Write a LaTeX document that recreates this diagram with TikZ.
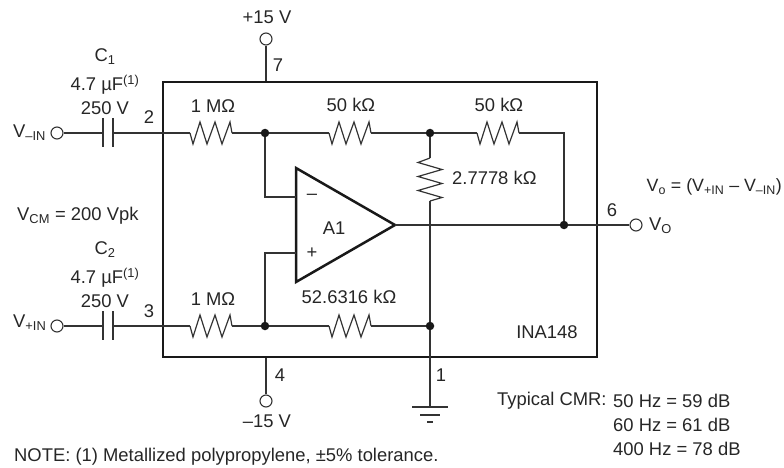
\documentclass[tikz,border=0pt]{standalone}
\usepackage{fontspec}
\setmainfont{Liberation Sans}
\begin{document}
\begin{tikzpicture}[
    x=1pt, y=-1pt,
    wire/.style={draw=black!80, line width=1.2pt},
    heavy/.style={draw=black!90, line width=2.5pt},
    chip/.style={
        rectangle, heavy, minimum width=434pt, minimum height=275pt,
        inner sep=0pt
    },
    pinhole/.style={
        circle, draw=black!80, line width=1.1pt, fill=white,
        minimum size=12pt, inner sep=0pt
    },
    junction/.style={
        circle, fill=black!90, minimum size=8.5pt, inner sep=0pt
    },
    lbl/.style={
        inner sep=0pt, text=black!85,
        font=\fontsize{18.4}{21}\selectfont
    },
    hres/.style={to path={
        -- ++(3,11) -- ++(7,-22) -- ++(7,22) -- ++(8,-22)
        -- ++(7,22) -- ++(8,-22) -- (\tikztotarget)
    }},
    vres/.style={to path={
        -- ++(-12,4.5) -- ++(24,7) -- ++(-24,7) -- ++(24,7)
        -- ++(-24,7) -- ++(24,7) -- (\tikztotarget)
    }}
]
\useasboundingbox (0,0) rectangle (784,468);

% --- Chip outline ---
\node[chip] (ina) at (380,219.5) {};

% --- Pins ---
\node[pinhole] (vminus) at (57,133) {};
\node[pinhole] (vplus) at (57,326) {};
\node[pinhole] (pos15) at (266,39) {};
\node[pinhole] (neg15) at (266,401) {};
\node[pinhole] (vout) at (636,225) {};

% --- Junctions ---
\node[junction] (nodeA) at (265,133) {};
\node[junction] (nodeB) at (265,326) {};
\node[junction] (nodeC) at (430,133) {};
\node[junction] (nodeD) at (430,326) {};
\node[junction] (nodeE) at (564,225) {};

% --- Resistor and capacitor ends ---
\coordinate (r1a) at (190,133);
\coordinate (r1b) at (232,133);
\coordinate (r2a) at (329,133);
\coordinate (r2b) at (371,133);
\coordinate (r3a) at (477,133);
\coordinate (r3b) at (519,133);
\coordinate (r4a) at (190,326);
\coordinate (r4b) at (232,326);
\coordinate (r5a) at (329,326);
\coordinate (r5b) at (371,326);
\coordinate (r6a) at (430,158);
\coordinate (r6b) at (430,201);
\coordinate (c1a) at (103,133);
\coordinate (c1b) at (113,133);
\coordinate (c2a) at (103,326);
\coordinate (c2b) at (113,326);

% --- Op amp ---
\coordinate (ampTop) at (296,168);
\coordinate (ampBot) at (296,282);
\coordinate (ampOut) at (395,225);
\draw[heavy, line join=miter] (ampTop) -- (ampOut) -- (ampBot) -- cycle;

% --- Ground ---
\coordinate (gnd) at (430,407);
\draw[wire] (412,407) -- (448,407);
\draw[wire] (420,415) -- (440,415);
\draw[wire] (427,422) -- (433,422);

% --- Capacitor plates ---
\draw[wire] (103,118) -- (103,147);
\draw[wire] (113,118) -- (113,147);
\draw[wire] (103,311) -- (103,340);
\draw[wire] (113,311) -- (113,340);

% --- Wires ---
\draw[wire] (vminus) -- (c1a);
\draw[wire] (c1b) -- (r1a);
\draw[wire] (r1a) to[hres] (r1b);
\draw[wire] (r1b) -- (nodeA);
\draw[wire] (nodeA) -- (r2a);
\draw[wire] (r2a) to[hres] (r2b);
\draw[wire] (r2b) -- (nodeC);
\draw[wire] (nodeC) -- (r3a);
\draw[wire] (r3a) to[hres] (r3b);
\draw[wire] (r3b) -| (nodeE);
\draw[wire] (nodeC) -- (r6a);
\draw[wire] (r6a) to[vres] (r6b);
\draw[wire] (r6b) -- (nodeD);
\draw[wire] (nodeD) -- (gnd);
\draw[wire] (vplus) -- (c2a);
\draw[wire] (c2b) -- (r4a);
\draw[wire] (r4a) to[hres] (r4b);
\draw[wire] (r4b) -- (nodeB);
\draw[wire] (nodeB) -- (r5a);
\draw[wire] (r5a) to[hres] (r5b);
\draw[wire] (r5b) -- (nodeD);
\draw[wire] (nodeA) |- (296,197);
\draw[wire] (nodeB) |- (296,253);
\draw[wire] (ampOut) -- (nodeE);
\draw[wire] (nodeE) -- (vout);
\draw[wire] (pos15) -- (pos15 |- ina.north);
\draw[wire] (neg15) -- (neg15 |- ina.south);

% --- Labels ---
\node[lbl] (lpos) at (267,17) {+15 V};
\node[lbl] (lneg) at (267,421) {–15 V};
\node[lbl] (p7) at (278,65) {7};
\node[lbl] (p2) at (149,117) {2};
\node[lbl] (p3) at (149,311) {3};
\node[lbl] (p4) at (280,375) {4};
\node[lbl] (p1) at (441,375) {1};
\node[lbl] (p6) at (612,210) {6};
\node[lbl] (c1name) at (105,57) {C\textsubscript{1}};
\node[lbl] (c1val) at (105,85) {4.7 µF\textsuperscript{(1)}};
\node[lbl] (c1volt) at (105,108) {250 V};
\node[lbl] (c2name) at (105,250) {C\textsubscript{2}};
\node[lbl] (c2val) at (105,278) {4.7 µF\textsuperscript{(1)}};
\node[lbl] (c2volt) at (105,301) {250 V};
\node[lbl, anchor=west] (lvm) at (13,133) {V\textsubscript{–IN}};
\node[lbl, anchor=west] (lvp) at (13,323) {V\textsubscript{+IN}};
\node[lbl, anchor=west] (lcm) at (17,216) {V\textsubscript{CM} = 200 Vpk};
\node[lbl] (lr1) at (213,106) {1 MΩ};
\node[lbl] (lr4) at (213,299) {1 MΩ};
\node[lbl] (lr2) at (351,105) {50 kΩ};
\node[lbl] (lr3) at (499,105) {50 kΩ};
\node[lbl, anchor=west] (lr6) at (452,178) {2.7778 kΩ};
\node[lbl] (lr5) at (349,297) {52.6316 kΩ};
\node[lbl] (lamp) at (334,228) {A1};
\node[lbl] (lminus) at (312,197) {–};
\node[lbl] (lplus) at (312,253) {+};
\node[lbl] (lina) at (547,332) {INA148};
\node[lbl, anchor=west] (lvo) at (649,226) {V\textsubscript{O}};
\node[lbl, anchor=east, font=\fontsize{17.8}{21}\selectfont] (leq) at (782,187) {V\textsubscript{o} = (V\textsubscript{+IN} – V\textsubscript{–IN})};
\node[lbl, anchor=west] (lcmr) at (497,401) {Typical CMR:};
\node[lbl, anchor=west] (lhz1) at (613,401) {50 Hz = 59 dB};
\node[lbl, anchor=west] (lhz2) at (613,425) {60 Hz = 61 dB};
\node[lbl, anchor=west] (lhz3) at (613,449) {400 Hz = 78 dB};
\node[lbl, anchor=west] (lnote) at (14,457) {NOTE: (1) Metallized polypropylene, ±5\% tolerance.};

\end{tikzpicture}
\end{document}
